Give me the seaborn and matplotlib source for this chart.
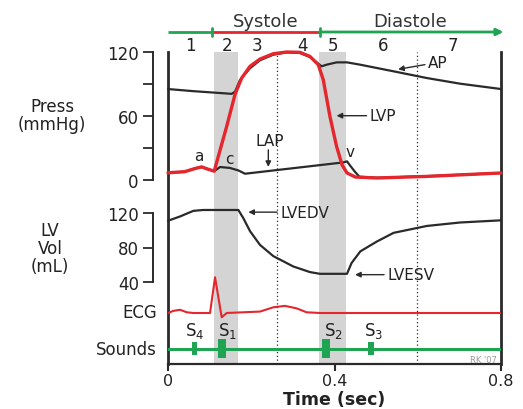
import numpy as np
import pandas as pd
import seaborn as sns
import matplotlib.pyplot as plt

# ---------------- data ----------------
# Aortic pressure (mmHg)
ap_t = [0, 0.061, 0.153, 0.161, 0.173, 0.197, 0.221, 0.253, 0.285, 0.317, 0.341,
        0.357, 0.369, 0.381, 0.405, 0.43, 0.462, 0.542, 0.622, 0.702, 0.8]
ap_p = [85, 83, 80.5, 82.5, 93.5, 104.5, 112, 117.2, 119.4, 118.8, 115,
        110, 106.3, 107.8, 110, 110, 107.8, 101.6, 95.3, 90, 85]
# Left ventricular pressure (mmHg)
lvp_t = [0, 0.04, 0.065, 0.081, 0.095, 0.111, 0.141, 0.161, 0.177, 0.197, 0.221,
         0.253, 0.285, 0.317, 0.341, 0.361, 0.373, 0.389, 0.405, 0.418, 0.43,
         0.45, 0.502, 0.622, 0.8]
lvp_p = [6.5, 7.5, 10.5, 12, 10, 8, 50, 80, 95.3, 106.3, 113.1,
         118.1, 119.7, 119.4, 115.6, 107.8, 93.7, 59.4, 31.2, 14, 6.3,
         2.5, 1.6, 3.1, 6.3]
# Left atrial pressure (mmHg)
lap_t = [0, 0.04, 0.065, 0.081, 0.095, 0.111, 0.125, 0.149, 0.169, 0.185,
         0.421, 0.43, 0.438, 0.45, 0.46, 0.502, 0.622, 0.8]
lap_p = [6.5, 7.5, 10.5, 12, 10, 8, 11.9, 11, 8.7, 5.6,
         16.2, 17.2, 13, 7, 2.8, 1.8, 3.3, 6.3]
# LV volume (mL)
vol_t = [0, 0.029, 0.061, 0.085, 0.169, 0.181, 0.197, 0.221, 0.253, 0.301,
         0.341, 0.365, 0.43, 0.441, 0.462, 0.502, 0.542, 0.622, 0.702, 0.8]
vol_v = [111, 116, 122.5, 123.5, 123.5, 114, 99, 83, 70, 58,
         51.5, 49.5, 49.5, 62, 75.5, 87, 97, 105, 109, 111.5]
# ECG (arbitrary mV)
ecg_t = [0, 0.013, 0.029, 0.045, 0.061, 0.101, 0.113, 0.129, 0.141, 0.221,
         0.253, 0.281, 0.309, 0.333, 0.365, 0.8]
ecg_mv = [0, 0.06, 0.09, 0.02, 0, 0, 1.0, -0.12, 0, 0.04,
          0.16, 0.2, 0.13, 0.02, 0, 0]
# Heart sounds
snd_names = ['S$_4$', 'S$_1$', 'S$_2$', 'S$_3$']
snd_t = [0.064, 0.130, 0.380, 0.488]
snd_dur = [0.012, 0.019, 0.019, 0.014]
snd_amp = [0.67, 0.97, 0.97, 0.67]
snd_label_t = [0.063, 0.144, 0.397, 0.495]
# Phases
phase_labels = ['1', '2', '3', '4', '5', '6', '7']
phase_label_t = [0.053, 0.142, 0.214, 0.322, 0.397, 0.517, 0.685]
shaded_phases = [(0.110, 0.168), (0.363, 0.428)]
dotted_t = [0.262, 0.599]
systole = (0.106, 0.364)
x_ticks = [0, 0.4, 0.8]
x_ticklabels = ['0', '0.4', '0.8']

# ---------------- style ----------------
sns.set_theme(style="white")
plt.rcParams['font.family'] = ['DejaVu Sans']
plt.rcParams['mathtext.fontset'] = 'dejavusans'

RED = '#e4262d'
GREEN = '#1fa454'
BLACK = '#2a2a2a'
GRAY = '#d4d4d4'
TXT = '#222222'

W, H = 523, 410
fig = plt.figure(figsize=(W / 100, H / 100), dpi=100)
fig.patch.set_facecolor('white')
X0, X1 = 168, 501


def add_ax(top_px, bot_px, z=1):
    ax = fig.add_axes([X0 / W, 1 - bot_px / H, (X1 - X0) / W, (bot_px - top_px) / H], zorder=z)
    ax.set_xlim(0, 0.8)
    ax.patch.set_visible(False)
    for s in ax.spines.values():
        s.set_visible(False)
    ax.set_xticks([])
    ax.set_yticks([])
    ax.set_xlabel('')
    ax.set_ylabel('')
    return ax


# background frame axes
ax_bg = add_ax(52.7, 365, z=0)
ax_bg.set_ylim(0, 1)
for side in ['left', 'right']:
    ax_bg.spines[side].set_visible(True)
    ax_bg.spines[side].set_linewidth(2.0)
    ax_bg.spines[side].set_color(BLACK)
ax_bg.spines['bottom'].set_visible(True)
ax_bg.spines['bottom'].set_linewidth(1.6)
ax_bg.spines['bottom'].set_color(BLACK)
for a, b in shaded_phases:
    ax_bg.axvspan(a, b, color=GRAY, lw=0)
for t in dotted_t:
    ax_bg.axvline(t, color=BLACK, lw=0.9, ls=(0, (1, 2)))
ax_bg.set_xticks(x_ticks)
ax_bg.set_xticklabels(x_ticklabels, fontsize=11.5, color=TXT)
ax_bg.tick_params(axis='x', direction='out', length=5, width=1.5, color=BLACK, pad=1.5, bottom=True)
fig.text((X0 + X1) / 2 / W, 1 - 400 / H, 'Time (sec)', ha='center', va='center',
         fontsize=12.5, fontweight='bold', color=TXT)

# pressure axes
ax_p = add_ax(52.7, 180.7)
ax_p.set_ylim(0, 120)
sns.lineplot(x=lap_t, y=lap_p, ax=ax_p, color=BLACK, lw=1.6, sort=False, estimator=None)
sns.lineplot(x=ap_t, y=ap_p, ax=ax_p, color=BLACK, lw=1.6, sort=False, estimator=None)
sns.lineplot(x=lvp_t, y=lvp_p, ax=ax_p, color=RED, lw=2.4, sort=False, estimator=None)

# volume axes
ax_v = add_ax(214, 283)
ax_v.set_ylim(40, 120)
sns.lineplot(x=vol_t, y=vol_v, ax=ax_v, color=BLACK, lw=1.6, sort=False, estimator=None)

for ax, ticks, minors in [(ax_p, [0, 60, 120], [30, 90]), (ax_v, [40, 80, 120], [])]:
    for ln in ax.lines:
        ln.set_clip_on(False)
    ax.spines['left'].set_visible(True)
    ax.spines['left'].set_position(('outward', 11))
    ax.spines['left'].set_linewidth(1.4)
    ax.spines['left'].set_color(BLACK)
    ax.set_yticks(ticks)
    ax.set_yticklabels([str(v) for v in ticks], fontsize=12, color=TXT)
    ax.set_yticks(minors, minor=True)
    ax.tick_params(axis='y', which='both', direction='out', length=7, width=1.3,
                   color=BLACK, pad=3, left=True)
    ax.set_xlabel('')
    ax.set_ylabel('')

# ECG axes
ECG_SCALE = 35.7
ax_e = add_ax(270, 330)
ax_e.set_ylim(-(330 - 314) / ECG_SCALE, (314 - 270) / ECG_SCALE)
sns.lineplot(x=ecg_t, y=ecg_mv, ax=ax_e, color=RED, lw=1.5, sort=False, estimator=None)
ax_e.set_xlabel('')
ax_e.set_ylabel('')

# sounds axes
ax_s = add_ax(330, 369)
ax_s.set_ylim(-1, 1)
ax_s.axhline(0, color=GREEN, lw=2.2)
ax_s.bar(snd_t, snd_amp, width=snd_dur, bottom=[-a / 2 for a in snd_amp], color=GREEN, lw=0)
for name, lt in zip(snd_names, snd_label_t):
    ax_s.text(lt, 0.95, name, ha='center', va='center', fontsize=12, color=TXT, clip_on=False)
ax_s.text(0.79, -0.55, "RK '07", ha='right', va='center', fontsize=6, color='#9a9a9a')

# phase bar axes
ax_t = add_ax(10, 50)
ax_t.set_ylim(0, 1)
yb = (50 - 33) / 40
ax_t.plot([0, systole[0]], [yb, yb], color=GREEN, lw=2, solid_capstyle='butt', clip_on=False)
ax_t.plot([systole[0], systole[1]], [yb, yb], color=RED, lw=2, solid_capstyle='butt', clip_on=False)
ax_t.annotate('', xy=(0.806, yb), xytext=(systole[1], yb),
              arrowprops=dict(arrowstyle='-|>', color=GREEN, lw=2, mutation_scale=10,
                              shrinkA=0, shrinkB=0), annotation_clip=False)
for t in systole:
    ax_t.plot([t, t], [yb - 0.11, yb + 0.11], color=GREEN, lw=2, clip_on=False)
ax_t.text(sum(systole) / 2, (50 - 22) / 40, 'Systole', ha='center', va='center', fontsize=13, color='#333333')
ax_t.text((systole[1] + 0.8) / 2, (50 - 22) / 40, 'Diastole', ha='center', va='center', fontsize=13, color='#333333')
for lab, lt in zip(phase_labels, phase_label_t):
    ax_t.text(lt, (50 - 46) / 40, lab, ha='center', va='center', fontsize=12, color=TXT, clip_on=False)

# annotations
arrow_kw = dict(arrowstyle='-|>', color=BLACK, lw=1.0, mutation_scale=8, shrinkA=0, shrinkB=0)
ax_p.annotate('AP', xy=(0.553, 103.5), xytext=(0.625, 110), fontsize=11, color=TXT,
              ha='left', va='center', arrowprops=arrow_kw, annotation_clip=False)
ax_p.annotate('LVP', xy=(0.405, 60), xytext=(0.485, 60), fontsize=11, color=TXT,
              ha='left', va='center', arrowprops=arrow_kw, annotation_clip=False)
ax_p.annotate('', xy=(0.241, 12), xytext=(0.241, 28), arrowprops=arrow_kw, annotation_clip=False)
ax_p.text(0.245, 37, 'LAP', fontsize=11, color=TXT, ha='center', va='center')
ax_p.text(0.075, 23, 'a', fontsize=11, color=TXT, ha='center', va='center')
ax_p.text(0.147, 20, 'c', fontsize=11, color=TXT, ha='center', va='center')
ax_p.text(0.4375, 26, 'v', fontsize=11, color=TXT, ha='center', va='center')
ax_v.annotate('LVEDV', xy=(0.193, 121), xytext=(0.27, 121), fontsize=11, color=TXT,
              ha='left', va='center', arrowprops=arrow_kw, annotation_clip=False)
ax_v.annotate('LVESV', xy=(0.4495, 48.5), xytext=(0.527, 48.5), fontsize=11, color=TXT,
              ha='left', va='center', arrowprops=arrow_kw, annotation_clip=False)

# left labels
fig.text(52 / W, 1 - 116 / H, 'Press\n(mmHg)', ha='center', va='center', fontsize=12,
         color=TXT, linespacing=1.05)
fig.text(50 / W, 1 - 249 / H, 'LV\nVol\n(mL)', ha='center', va='center', fontsize=12,
         color=TXT, linespacing=1.0)
fig.text(157 / W, 1 - 313 / H, 'ECG', ha='right', va='center', fontsize=12, color=TXT)
fig.text(157 / W, 1 - 350 / H, 'Sounds', ha='right', va='center', fontsize=12, color=TXT)

fig.savefig('out.png', dpi=100, facecolor='white')
